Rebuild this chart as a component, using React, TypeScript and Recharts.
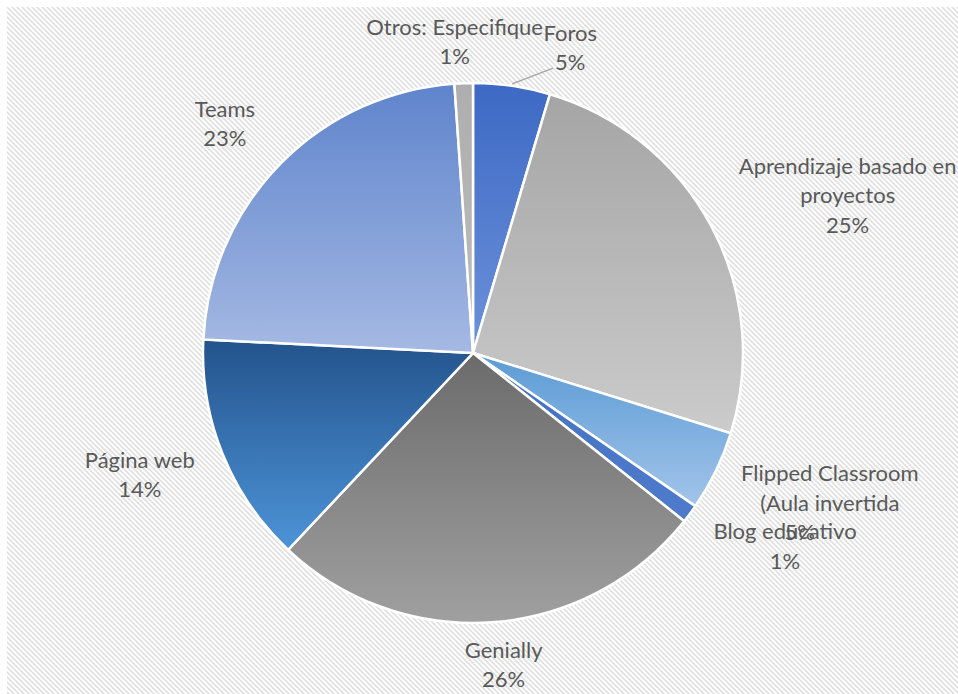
import React from 'react';
import { PieChart, Pie, Cell } from 'recharts';

const categories = [
  'Foros',
  'Aprendizaje basado en proyectos',
  'Flipped Classroom (Aula invertida',
  'Blog educativo',
  'Genially',
  'Página web',
  'Teams',
  'Otros: Especifique',
];
const values = [4.6, 25.2, 4.8, 1.1, 26.3, 13.8, 23.1, 1.1];
const labelLines = [
  ['Foros'],
  ['Aprendizaje basado en', 'proyectos'],
  ['Flipped Classroom', '(Aula invertida'],
  ['Blog educativo'],
  ['Genially'],
  ['Página web'],
  ['Teams'],
  ['Otros: Especifique'],
];

// styling
const gradTop = ['#3D69C4', '#A5A5A5', '#5B9BD5', '#4472C4', '#6B6B6B', '#23538C', '#5F84CC', '#AEAEAE'];
const gradBottom = ['#6C92DA', '#CBCBCB', '#A2C4EA', '#4E7BCB', '#A0A0A0', '#4D94D8', '#A5B9E3', '#BDBDBD'];
// label block offsets relative to anchor point (outerRadius + 30 along mid angle)
const labelOffset: [number, number][] = [
  [54, -9],
  [110, -17],
  [87, 18],
  [71, 14],
  [9, 12],
  [-55, 9],
  [-34, -20],
  [-8, -12],
];
const pctDx = [0, 0, -30, 0, 0, 0, 0, 0];
const leader = [true, false, false, false, false, false, false, false];

const data = categories.map((name, i) => ({ name, value: values[i] }));

const RAD = Math.PI / 180;
const LH = 29.5;

const stripe =
  "url(\"data:image/svg+xml;utf8,<svg xmlns='http://www.w3.org/2000/svg' width='5' height='5'><path d='M0 0L5 5M-1 4L1 6M4 -1L6 1' stroke='%23e0e0e0' stroke-width='1.6'/></svg>\")";

const renderLabel = (props: any) => {
  const { cx, cy, midAngle, outerRadius, percent, index } = props;
  const r = outerRadius + 30;
  const ax = cx + r * Math.cos(-midAngle * RAD);
  const ay = cy + r * Math.sin(-midAngle * RAD);
  const bx = ax + labelOffset[index][0];
  const by = ay + labelOffset[index][1];
  const lines = [...labelLines[index], `${Math.round(percent * 100)}%`];
  const n = lines.length;
  const y0 = by - ((n - 1) * LH) / 2;
  const lx0 = cx + (outerRadius + 2) * Math.cos(-midAngle * RAD);
  const ly0 = cy + (outerRadius + 2) * Math.sin(-midAngle * RAD);
  return (
    <g key={`lbl-${index}`}>
      {leader[index] && (
        <line x1={lx0} y1={ly0} x2={bx - 17} y2={by + 21} stroke="#A6A6A6" strokeWidth={1.5} />
      )}
      {lines.map((t, i) => (
        <text
          key={i}
          x={bx + (i === n - 1 ? pctDx[index] : 0)}
          y={y0 + i * LH}
          textAnchor="middle"
          dominantBaseline="central"
          fill="#595959"
          fontSize={22}
          fontFamily="Lato, 'Noto Sans', sans-serif"
        >
          {t}
        </text>
      ))}
    </g>
  );
};

export default function App() {
  return (
    <div
      style={{
        position: 'fixed',
        left: 7,
        top: 7,
        width: 951,
        height: 687,
        backgroundColor: '#ffffff',
        backgroundImage: stripe,
      }}
    >
      <PieChart width={951} height={687} margin={{ top: 0, right: 0, bottom: 0, left: 0 }}>
        <defs>
          {categories.map((c, i) => (
            <linearGradient key={c} id={`g${i}`} x1="0" y1="0" x2="0" y2="1">
              <stop offset="0%" stopColor={gradTop[i]} />
              <stop offset="100%" stopColor={gradBottom[i]} />
            </linearGradient>
          ))}
        </defs>
        <Pie
          data={data}
          dataKey="value"
          nameKey="name"
          cx={466}
          cy={346}
          outerRadius={270}
          startAngle={90}
          endAngle={-270}
          stroke="#ffffff"
          strokeWidth={2.5}
          label={renderLabel}
          labelLine={false}
          isAnimationActive={false}
        >
          {data.map((d, i) => (
            <Cell key={d.name} fill={`url(#g${i})`} />
          ))}
        </Pie>
      </PieChart>
    </div>
  );
}
